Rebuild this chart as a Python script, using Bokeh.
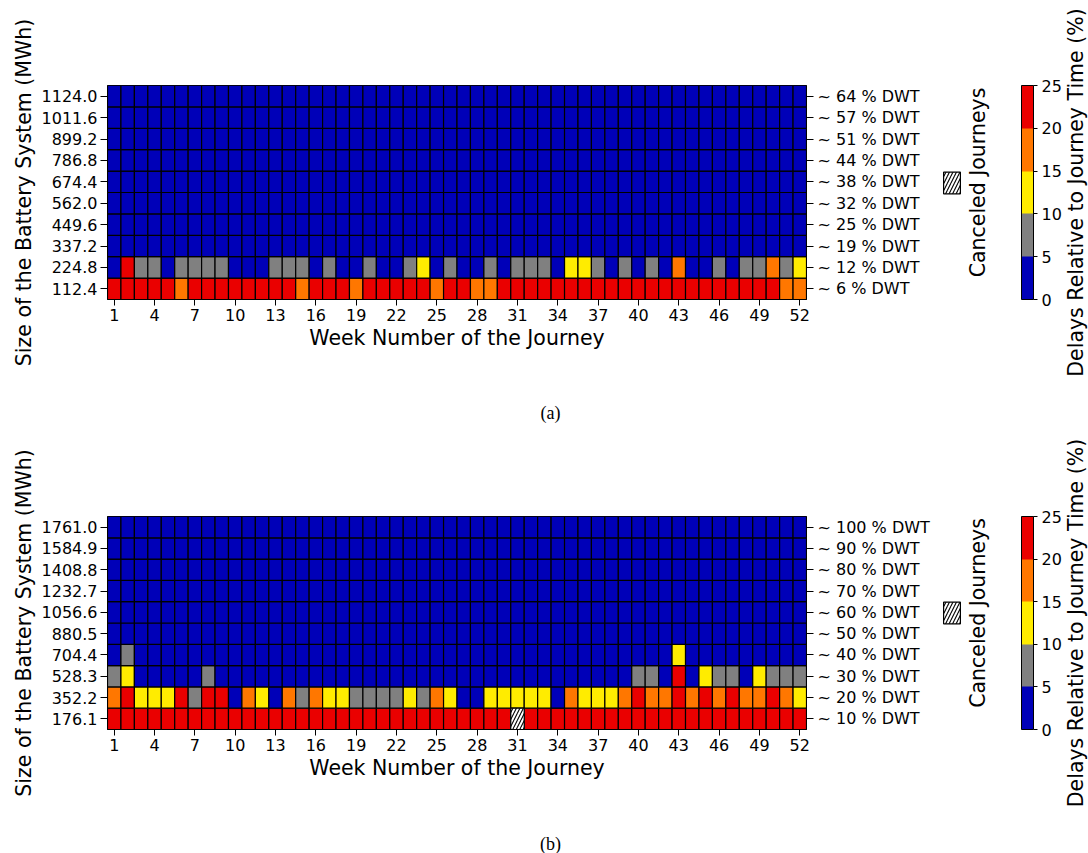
import numpy as np
from math import pi
from bokeh.plotting import figure
from bokeh.layouts import column, row
from bokeh.models import (ColumnDataSource, LinearColorMapper, ColorBar, FixedTicker,
                          LinearAxis, Label, Legend, LegendItem, Range1d)
from bokeh.embed import file_html
from bokeh.resources import INLINE

# ---------------- data ----------------
weeks = list(range(1, 53))
week_ticks = [1, 4, 7, 10, 13, 16, 19, 22, 25, 28, 31, 34, 37, 40, 43, 46, 49, 52]
cbar_ticks = [0, 5, 10, 15, 20, 25]
delay_palette = ["#0000B8", "#808080", "#FFEC00", "#FF7700", "#EA0000"]

# panel (a): battery sizes (bottom to top) and DWT share labels
a_sizes = ["112.4", "224.8", "337.2", "449.6", "562.0", "674.4", "786.8", "899.2", "1011.6", "1124.0"]
a_dwt = ["~ 6 % DWT", "~ 12 % DWT", "~ 19 % DWT", "~ 25 % DWT", "~ 32 % DWT",
         "~ 38 % DWT", "~ 44 % DWT", "~ 51 % DWT", "~ 57 % DWT", "~ 64 % DWT"]

# delays relative to journey time (%) per week
a_112_4 = [22, 22, 22, 22, 22, 17, 22, 22, 22, 22, 22, 22, 22,
           22, 17, 22, 22, 22, 17, 22, 22, 22, 22, 22, 17, 22,
           22, 17, 17, 22, 22, 22, 22, 22, 22, 22, 22, 22, 22,
           22, 22, 22, 22, 22, 22, 22, 22, 22, 22, 22, 17, 17]
a_224_8 = [2, 22, 7, 7, 2, 7, 7, 7, 7, 2, 2, 2, 7,
           7, 7, 2, 7, 2, 2, 7, 2, 2, 7, 12, 2, 7,
           2, 2, 7, 2, 7, 7, 7, 2, 12, 12, 7, 2, 7,
           2, 7, 2, 17, 2, 2, 7, 2, 7, 7, 17, 7, 12]
a_337_2 = [2, 2, 2, 2, 2, 2, 2, 2, 2, 2, 2, 2, 2, 2, 2, 2, 2, 2, 2, 2, 2, 2, 2, 2, 2, 2,
           2, 2, 2, 2, 2, 2, 2, 2, 2, 2, 2, 2, 2, 2, 2, 2, 2, 2, 2, 2, 2, 2, 2, 2, 2, 2]
a_449_6 = [2, 2, 2, 2, 2, 2, 2, 2, 2, 2, 2, 2, 2, 2, 2, 2, 2, 2, 2, 2, 2, 2, 2, 2, 2, 2,
           2, 2, 2, 2, 2, 2, 2, 2, 2, 2, 2, 2, 2, 2, 2, 2, 2, 2, 2, 2, 2, 2, 2, 2, 2, 2]
a_562_0 = [2, 2, 2, 2, 2, 2, 2, 2, 2, 2, 2, 2, 2, 2, 2, 2, 2, 2, 2, 2, 2, 2, 2, 2, 2, 2,
           2, 2, 2, 2, 2, 2, 2, 2, 2, 2, 2, 2, 2, 2, 2, 2, 2, 2, 2, 2, 2, 2, 2, 2, 2, 2]
a_674_4 = [2, 2, 2, 2, 2, 2, 2, 2, 2, 2, 2, 2, 2, 2, 2, 2, 2, 2, 2, 2, 2, 2, 2, 2, 2, 2,
           2, 2, 2, 2, 2, 2, 2, 2, 2, 2, 2, 2, 2, 2, 2, 2, 2, 2, 2, 2, 2, 2, 2, 2, 2, 2]
a_786_8 = [2, 2, 2, 2, 2, 2, 2, 2, 2, 2, 2, 2, 2, 2, 2, 2, 2, 2, 2, 2, 2, 2, 2, 2, 2, 2,
           2, 2, 2, 2, 2, 2, 2, 2, 2, 2, 2, 2, 2, 2, 2, 2, 2, 2, 2, 2, 2, 2, 2, 2, 2, 2]
a_899_2 = [2, 2, 2, 2, 2, 2, 2, 2, 2, 2, 2, 2, 2, 2, 2, 2, 2, 2, 2, 2, 2, 2, 2, 2, 2, 2,
           2, 2, 2, 2, 2, 2, 2, 2, 2, 2, 2, 2, 2, 2, 2, 2, 2, 2, 2, 2, 2, 2, 2, 2, 2, 2]
a_1011_6 = [2, 2, 2, 2, 2, 2, 2, 2, 2, 2, 2, 2, 2, 2, 2, 2, 2, 2, 2, 2, 2, 2, 2, 2, 2, 2,
            2, 2, 2, 2, 2, 2, 2, 2, 2, 2, 2, 2, 2, 2, 2, 2, 2, 2, 2, 2, 2, 2, 2, 2, 2, 2]
a_1124_0 = [2, 2, 2, 2, 2, 2, 2, 2, 2, 2, 2, 2, 2, 2, 2, 2, 2, 2, 2, 2, 2, 2, 2, 2, 2, 2,
            2, 2, 2, 2, 2, 2, 2, 2, 2, 2, 2, 2, 2, 2, 2, 2, 2, 2, 2, 2, 2, 2, 2, 2, 2, 2]

# panel (b)
b_sizes = ["176.1", "352.2", "528.3", "704.4", "880.5", "1056.6", "1232.7", "1408.8", "1584.9", "1761.0"]
b_dwt = ["~ 10 % DWT", "~ 20 % DWT", "~ 30 % DWT", "~ 40 % DWT", "~ 50 % DWT",
         "~ 60 % DWT", "~ 70 % DWT", "~ 80 % DWT", "~ 90 % DWT", "~ 100 % DWT"]
nan = float("nan")  # canceled journey
b_176_1 = [22, 22, 22, 22, 22, 22, 22, 22, 22, 22, 22, 22, 22,
           22, 22, 22, 22, 22, 22, 22, 22, 22, 22, 22, 22, 22,
           22, 22, 22, 22, nan, 22, 22, 22, 22, 22, 22, 22, 22,
           22, 22, 22, 22, 22, 22, 22, 22, 22, 22, 22, 22, 22]
b_352_2 = [17, 22, 12, 12, 12, 22, 7, 22, 22, 2, 17, 12, 2,
           17, 7, 17, 12, 12, 7, 7, 7, 7, 12, 7, 17, 12,
           2, 2, 12, 12, 12, 12, 12, 2, 17, 12, 12, 12, 17,
           22, 17, 17, 22, 17, 22, 17, 22, 17, 17, 22, 17, 12]
b_528_3 = [7, 12, 2, 2, 2, 2, 2, 7, 2, 2, 2, 2, 2,
           2, 2, 2, 2, 2, 2, 2, 2, 2, 2, 2, 2, 2,
           2, 2, 2, 2, 2, 2, 2, 2, 2, 2, 2, 2, 2,
           7, 7, 2, 22, 2, 12, 7, 7, 2, 12, 7, 7, 7]
b_704_4 = [2, 7, 2, 2, 2, 2, 2, 2, 2, 2, 2, 2, 2,
           2, 2, 2, 2, 2, 2, 2, 2, 2, 2, 2, 2, 2,
           2, 2, 2, 2, 2, 2, 2, 2, 2, 2, 2, 2, 2,
           2, 2, 2, 12, 2, 2, 2, 2, 2, 2, 2, 2, 2]
b_880_5 = [2, 2, 2, 2, 2, 2, 2, 2, 2, 2, 2, 2, 2, 2, 2, 2, 2, 2, 2, 2, 2, 2, 2, 2, 2, 2,
           2, 2, 2, 2, 2, 2, 2, 2, 2, 2, 2, 2, 2, 2, 2, 2, 2, 2, 2, 2, 2, 2, 2, 2, 2, 2]
b_1056_6 = [2, 2, 2, 2, 2, 2, 2, 2, 2, 2, 2, 2, 2, 2, 2, 2, 2, 2, 2, 2, 2, 2, 2, 2, 2, 2,
            2, 2, 2, 2, 2, 2, 2, 2, 2, 2, 2, 2, 2, 2, 2, 2, 2, 2, 2, 2, 2, 2, 2, 2, 2, 2]
b_1232_7 = [2, 2, 2, 2, 2, 2, 2, 2, 2, 2, 2, 2, 2, 2, 2, 2, 2, 2, 2, 2, 2, 2, 2, 2, 2, 2,
            2, 2, 2, 2, 2, 2, 2, 2, 2, 2, 2, 2, 2, 2, 2, 2, 2, 2, 2, 2, 2, 2, 2, 2, 2, 2]
b_1408_8 = [2, 2, 2, 2, 2, 2, 2, 2, 2, 2, 2, 2, 2, 2, 2, 2, 2, 2, 2, 2, 2, 2, 2, 2, 2, 2,
            2, 2, 2, 2, 2, 2, 2, 2, 2, 2, 2, 2, 2, 2, 2, 2, 2, 2, 2, 2, 2, 2, 2, 2, 2, 2]
b_1584_9 = [2, 2, 2, 2, 2, 2, 2, 2, 2, 2, 2, 2, 2, 2, 2, 2, 2, 2, 2, 2, 2, 2, 2, 2, 2, 2,
            2, 2, 2, 2, 2, 2, 2, 2, 2, 2, 2, 2, 2, 2, 2, 2, 2, 2, 2, 2, 2, 2, 2, 2, 2, 2]
b_1761_0 = [2, 2, 2, 2, 2, 2, 2, 2, 2, 2, 2, 2, 2, 2, 2, 2, 2, 2, 2, 2, 2, 2, 2, 2, 2, 2,
            2, 2, 2, 2, 2, 2, 2, 2, 2, 2, 2, 2, 2, 2, 2, 2, 2, 2, 2, 2, 2, 2, 2, 2, 2, 2]

a_rows = [a_112_4, a_224_8, a_337_2, a_449_6, a_562_0, a_674_4, a_786_8, a_899_2, a_1011_6, a_1124_0]
b_rows = [b_176_1, b_352_2, b_528_3, b_704_4, b_880_5, b_1056_6, b_1232_7, b_1408_8, b_1584_9, b_1761_0]

FONT = "DejaVu Sans"
mapper = LinearColorMapper(palette=delay_palette, low=0, high=25, nan_color="white")

HEAT_W = 938
SIDE_W = 1088 - HEAT_W
HEAT_BOTTOM = 75
HATCH = dict(hatch_pattern="/", hatch_color="black", hatch_scale=7, hatch_weight=1.1)


def blank_fig(w, h):
    f = figure(width=w, height=h, min_border=0, x_axis_location=None, y_axis_location=None,
               x_range=Range1d(0, 1), y_range=Range1d(0, 1),
               output_backend="svg", toolbar_location=None, tools="")
    f.grid.visible = False
    f.outline_line_color = None
    f.background_fill_color = "white"
    f.border_fill_color = "white"
    return f


def make_panel(rows, sizes, dwt, caption, caption_y, frame_top, frame_h, panel_h):
    xs, ys, vals = [], [], []
    for r, rw in enumerate(rows):
        for w, v in zip(weeks, rw):
            xs.append(w)
            ys.append(r + 1)
            vals.append(v)
    xs = np.array(xs)
    ys = np.array(ys)
    vals = np.array(vals, dtype=float)
    src = ColumnDataSource(dict(week=xs, row=ys, delay=vals))
    canc = np.isnan(vals)
    csrc = ColumnDataSource(dict(week=xs[canc], row=ys[canc]))

    heat_h = frame_top + frame_h + HEAT_BOTTOM
    p = figure(frame_width=699, frame_height=frame_h,
               min_border_left=107, min_border_right=HEAT_W - 107 - 699,
               min_border_top=frame_top, min_border_bottom=HEAT_BOTTOM,
               x_range=Range1d(0.5, 52.5), y_range=Range1d(0.5, 10.5),
               output_backend="svg", toolbar_location=None, tools="")
    p.grid.visible = False
    p.outline_line_color = "black"
    p.outline_line_width = 1
    p.background_fill_color = "white"
    p.border_fill_color = "white"

    p.rect(x="week", y="row", width=1, height=1, source=src,
           fill_color={"field": "delay", "transform": mapper},
           line_color="black", line_width=1.2)
    p.rect(x="week", y="row", width=1, height=1, source=csrc,
           fill_color="white", line_color="black", line_width=1.2, **HATCH)

    xa = p.xaxis[0]
    xa.ticker = FixedTicker(ticks=week_ticks)
    xa.axis_label = "Week Number of the Journey"
    ya = p.yaxis[0]
    ya.ticker = FixedTicker(ticks=list(range(1, 11)))
    ya.major_label_overrides = {i + 1: s for i, s in enumerate(sizes)}
    ya.axis_label = "Size of the Battery System (MWh)"
    ra = LinearAxis(ticker=FixedTicker(ticks=list(range(1, 11))),
                    major_label_overrides={i + 1: s for i, s in enumerate(dwt)})
    p.add_layout(ra, "right")
    for ax in (xa, ya, ra):
        ax.axis_line_color = "black"
        ax.major_tick_line_color = "black"
        ax.minor_tick_line_color = None
        ax.major_tick_in = 0
        ax.major_label_text_font = FONT
        ax.major_label_text_font_size = "16px"
        ax.major_label_text_color = "black"
        ax.axis_label_text_font = FONT
        ax.axis_label_text_font_size = "20.5px"
        ax.axis_label_text_font_style = "normal"
        ax.axis_label_text_color = "black"
    xa.major_tick_out = 6
    xa.major_label_standoff = 3
    xa.axis_label_standoff = 2
    ya.major_tick_out = 7
    ya.major_label_standoff = 3
    ya.axis_label_standoff = 3
    ra.major_tick_out = 7
    ra.major_label_standoff = 4

    # caption strip under the heatmap
    cap_h = panel_h - heat_h
    cap = blank_fig(HEAT_W, cap_h)
    cap.add_layout(Label(x=443, y=caption_y, x_units="screen", y_units="screen",
                         text=caption, text_align="center", text_baseline="middle",
                         text_font="Liberation Serif", text_font_size="18px", text_color="black"))

    # side strip: canceled legend + colour bar
    side = blank_fig(SIDE_W, panel_h)
    fb = panel_h - frame_top - frame_h  # frame bottom measured from side-strip bottom
    fc = fb + frame_h / 2
    key_src = ColumnDataSource(dict(x=[nan], y=[nan]))
    swatch = side.rect(x="x", y="y", width=1, height=1, source=key_src, fill_color="white",
                       line_color="black", line_width=1.2, **HATCH)
    leg = Legend(items=[LegendItem(label=" ", renderers=[swatch])],
                 location=(3, fc - 3.5), glyph_width=21, glyph_height=27,
                 padding=0, margin=0, spacing=0, label_standoff=0, label_width=0,
                 label_height=0, label_text_font_size="1px",
                 border_line_color=None, background_fill_alpha=0)
    side.add_layout(leg, "center")
    side.add_layout(Label(x=39, y=fc + 10, x_units="screen", y_units="screen",
                          text="Canceled Journeys", angle=pi / 2,
                          text_align="center", text_baseline="middle",
                          text_font=FONT, text_font_size="20.5px", text_color="black"))
    cb = ColorBar(color_mapper=mapper, location=(83, fb), width=12, height=frame_h,
                  padding=0, margin=0, ticker=FixedTicker(ticks=cbar_ticks),
                  major_tick_in=0, major_tick_out=4, major_tick_line_color="black",
                  major_label_text_font=FONT, major_label_text_font_size="16px",
                  major_label_text_color="black", label_standoff=4,
                  bar_line_color="black", bar_line_width=1,
                  background_fill_alpha=0, border_line_color=None)
    side.add_layout(cb, "center")
    side.add_layout(Label(x=137, y=fc, x_units="screen", y_units="screen",
                          text="Delays Relative to Journey Time (%)", angle=pi / 2,
                          text_align="center", text_baseline="middle",
                          text_font=FONT, text_font_size="20.5px", text_color="black"))

    return row(column(p, cap, spacing=0), side, spacing=0)


pa = make_panel(a_rows, a_sizes, a_dwt, "(a)", 14, 85, 214, 426)
pb = make_panel(b_rows, b_sizes, b_dwt, "(b)", 10, 90, 213, 427)
layout = column(pa, pb, spacing=0)

open("out.html", "w").write(file_html(layout, INLINE))
